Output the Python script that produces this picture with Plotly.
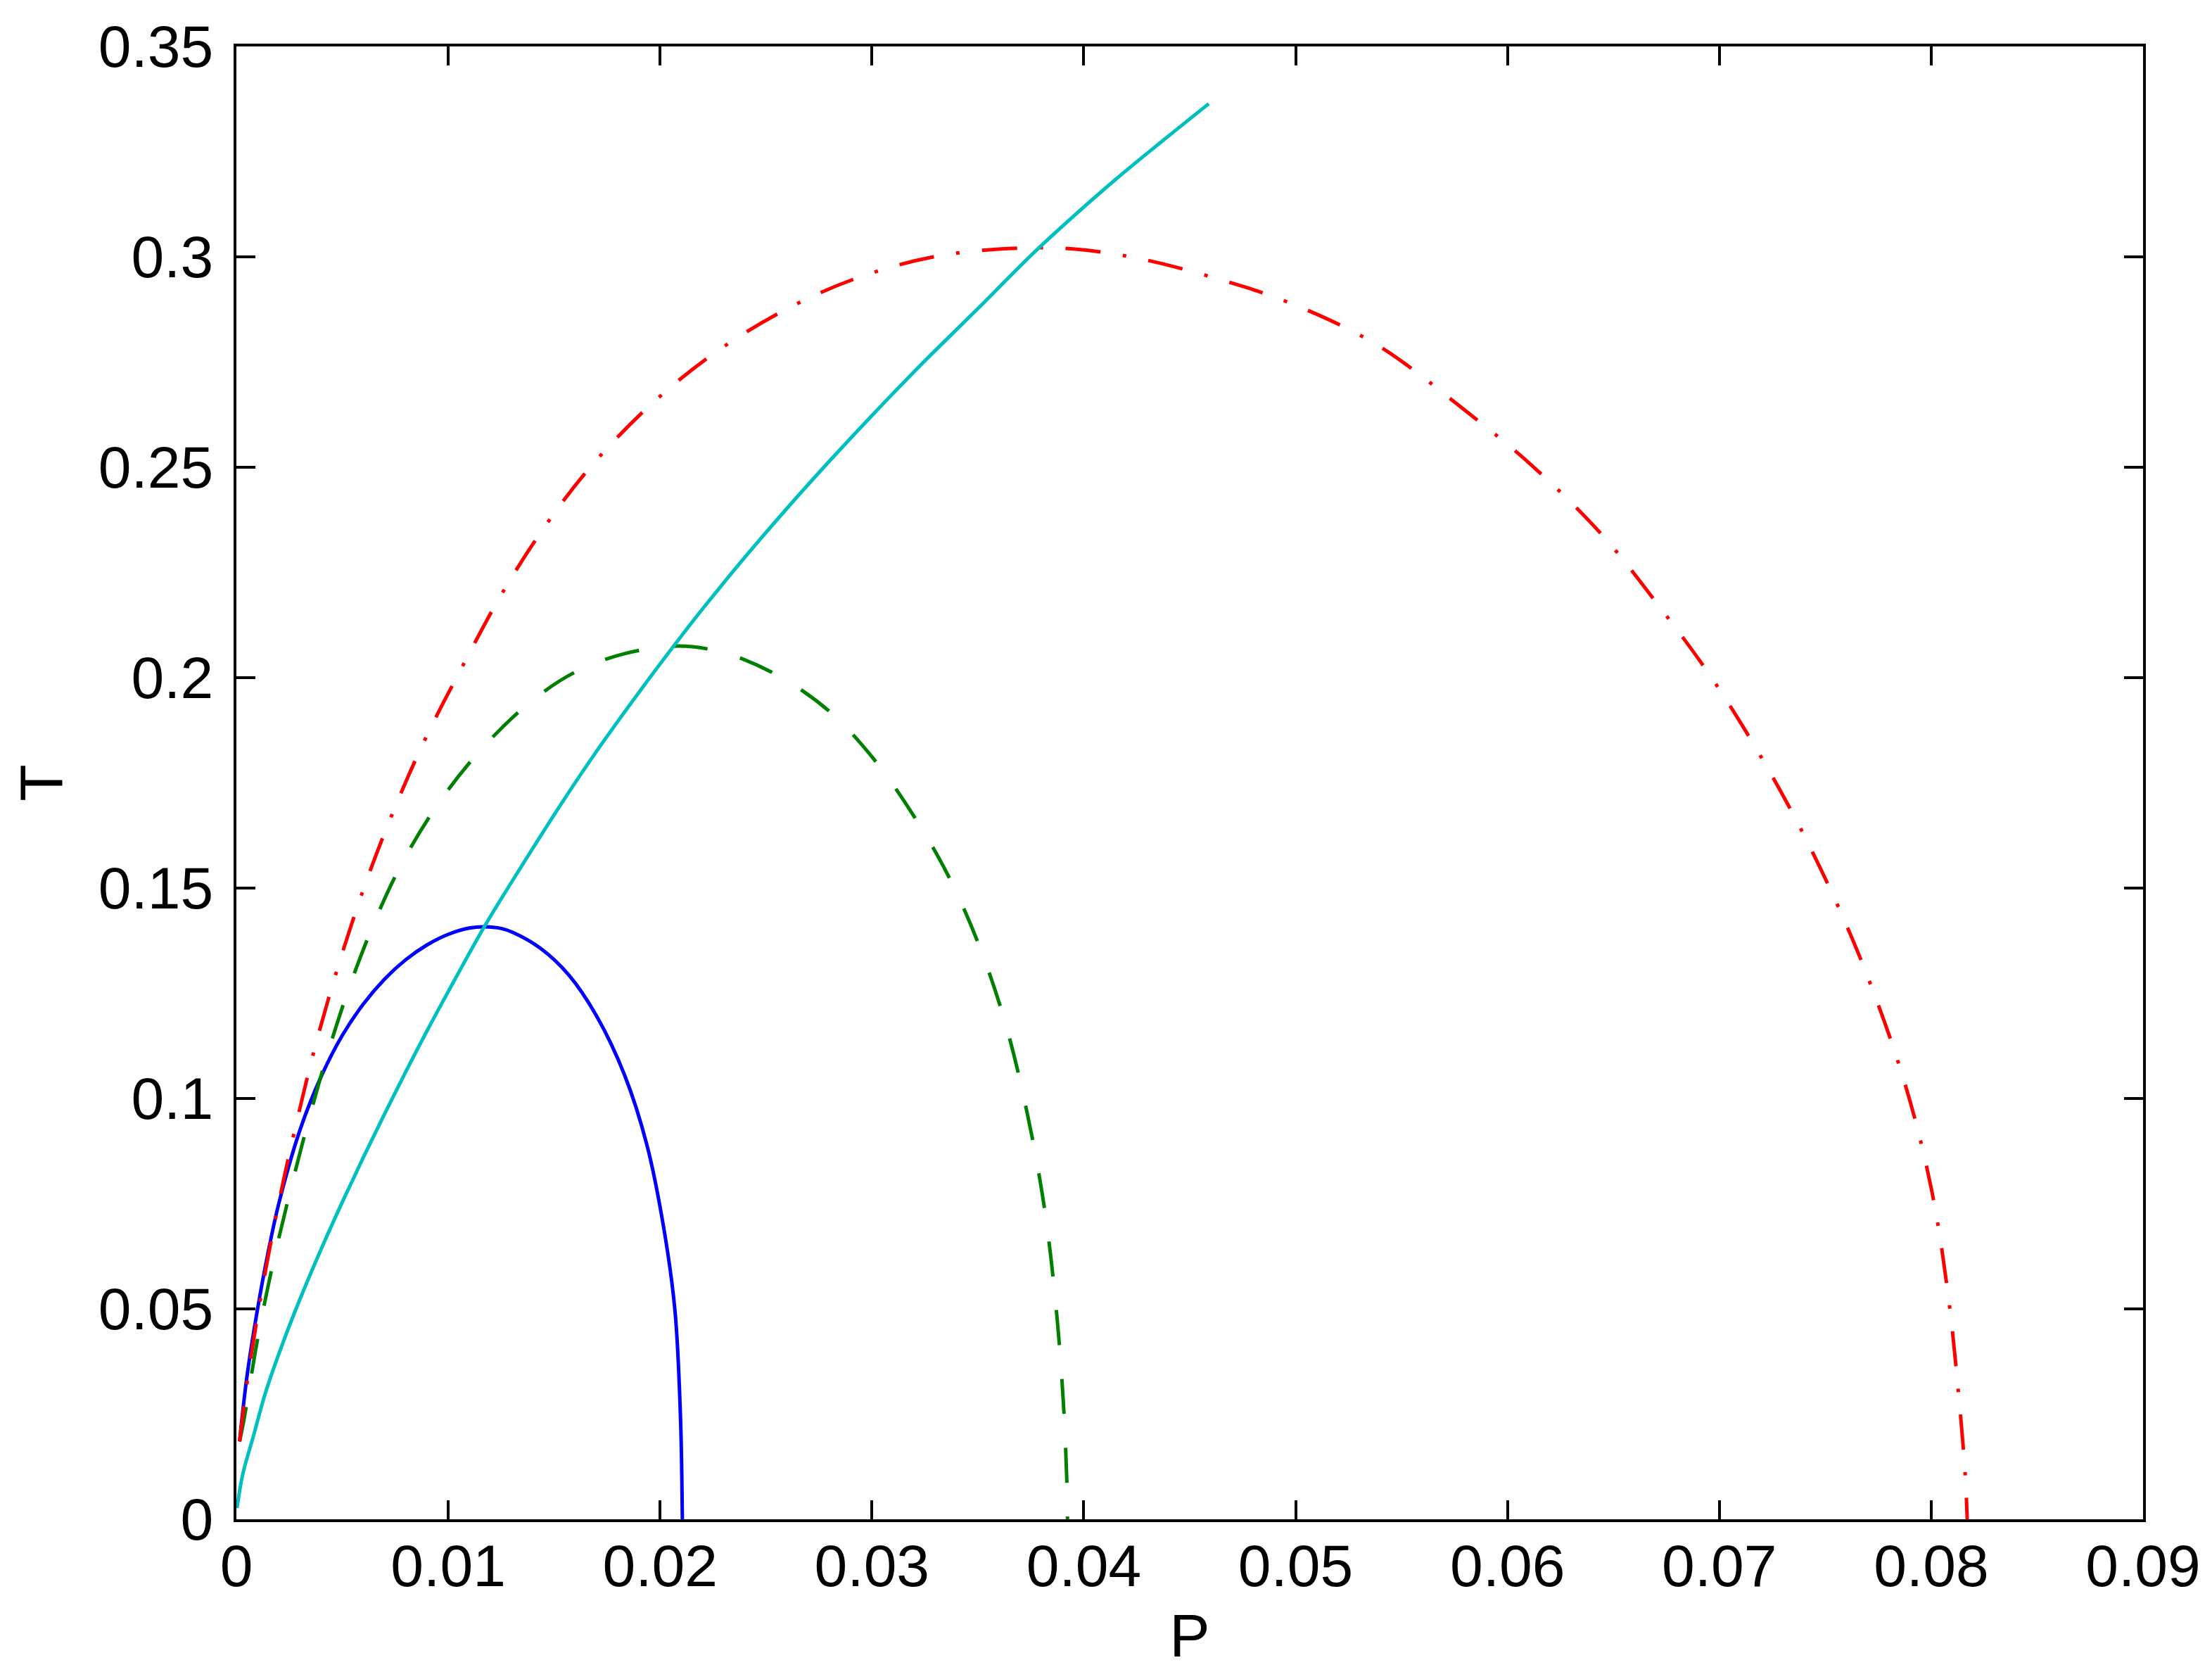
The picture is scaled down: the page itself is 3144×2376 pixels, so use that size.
import plotly.graph_objects as go

# Values (P on x, T on y)
blue_P = [0.00015, 0.0005, 0.001, 0.0015, 0.002, 0.003, 0.004, 0.005, 0.006, 0.007,
          0.008, 0.009, 0.010, 0.011, 0.0117, 0.0125, 0.01303, 0.01435, 0.01568, 0.017,
          0.01832, 0.01938, 0.02017, 0.0207, 0.02096, 0.02105]
blue_T = [0.0185, 0.034, 0.050, 0.0635, 0.075, 0.0925, 0.1052, 0.115, 0.1225, 0.1284,
          0.133, 0.1365, 0.139, 0.1405, 0.1408, 0.1404, 0.1395, 0.1357, 0.1294, 0.1196,
          0.1056, 0.0889, 0.0693, 0.0497, 0.0246, 0.0]

green_P = [0.00015, 0.00034, 0.001, 0.00167, 0.00246, 0.00338, 0.00431, 0.00537, 0.00669,
           0.00801, 0.00973, 0.01171, 0.01383, 0.01594, 0.01832, 0.0207, 0.02228, 0.02387,
           0.02598, 0.0281, 0.02995, 0.03154, 0.03339, 0.03497, 0.03629, 0.03735, 0.03814,
           0.03867, 0.03902, 0.0392, 0.03923]
green_T = [0.0185, 0.0232, 0.0428, 0.0595, 0.0763, 0.0943, 0.1107, 0.127, 0.144,
           0.1577, 0.1715, 0.1838, 0.194, 0.2012, 0.2057, 0.2075, 0.2068, 0.2045,
           0.1993, 0.1915, 0.1815, 0.1705, 0.155, 0.1375, 0.118, 0.096, 0.074,
           0.0515, 0.029, 0.009, 0.0]

red_P = [0.00015, 0.00048, 0.00114, 0.00193, 0.00272, 0.00378, 0.00497, 0.00616, 0.00748,
         0.00893, 0.01065, 0.0125, 0.0145, 0.0167, 0.0195, 0.0225, 0.0259, 0.0292,
         0.0329, 0.0366, 0.0395, 0.0427, 0.0465, 0.0496, 0.0538, 0.058, 0.0612,
         0.0644, 0.067, 0.0697, 0.0723, 0.0744, 0.0766, 0.0787, 0.08, 0.0808,
         0.0813, 0.0816, 0.0817]
red_T = [0.0185, 0.0316, 0.0525, 0.0735, 0.0917, 0.1135, 0.1341, 0.152, 0.1691,
         0.1856, 0.2025, 0.2197, 0.2355, 0.25, 0.2646, 0.2769, 0.2874, 0.2948,
         0.3, 0.302, 0.3019, 0.2995, 0.2945, 0.2893, 0.2792, 0.2635, 0.2502,
         0.2343, 0.218, 0.1995, 0.1783, 0.1585, 0.134, 0.1045, 0.0787, 0.0533,
         0.0294, 0.011, 0.0]

cyan_P = [0.00003, 0.0003, 0.0008, 0.0014, 0.0022, 0.003, 0.004, 0.005, 0.006, 0.007,
          0.008, 0.009, 0.010, 0.0117, 0.013, 0.0155, 0.017, 0.019, 0.0207, 0.022,
          0.024, 0.026, 0.028, 0.030, 0.0323, 0.035, 0.0376, 0.0395, 0.0415, 0.0437,
          0.0459]
cyan_T = [0.0027, 0.0107, 0.0197, 0.0305, 0.042, 0.0523, 0.0642, 0.0754, 0.0861, 0.0964,
          0.1064, 0.1161, 0.1254, 0.1408, 0.1515, 0.1713, 0.1825, 0.1965, 0.2079, 0.2163,
          0.2286, 0.2403, 0.2515, 0.2623, 0.2743, 0.2877, 0.3008, 0.3096, 0.3184, 0.3275,
          0.3364]

x_ticks = [0, 0.01, 0.02, 0.03, 0.04, 0.05, 0.06, 0.07, 0.08, 0.09]
x_labels = ["0", "0.01", "0.02", "0.03", "0.04", "0.05", "0.06", "0.07", "0.08", "0.09"]
y_ticks = [0, 0.05, 0.1, 0.15, 0.2, 0.25, 0.3, 0.35]
y_labels = ["0", "0.05", "0.1", "0.15", "0.2", "0.25", "0.3", "0.35"]

FONT = "Liberation Sans, Arial, Helvetica, sans-serif"
LW = 5

fig = go.Figure()

# solid blue
fig.add_trace(go.Scatter(x=blue_P, y=blue_T, mode='lines',
                         line=dict(color='#0000FF', width=LW, shape='spline', smoothing=1.0)))
# dashed green
fig.add_trace(go.Scatter(x=green_P, y=green_T, mode='lines',
                         line=dict(color='#008000', width=LW, shape='spline', smoothing=1.0,
                                   dash='50px,48px')))
# dash-dot red
fig.add_trace(go.Scatter(x=red_P, y=red_T, mode='lines',
                         line=dict(color='#FF0000', width=LW, shape='spline', smoothing=1.0,
                                   dash='50px,32px,5px,32px')))
# solid cyan
fig.add_trace(go.Scatter(x=cyan_P, y=cyan_T, mode='lines',
                         line=dict(color='#00BFBF', width=LW, shape='spline', smoothing=1.0)))

axis_common = dict(
    showline=True, linecolor='black', linewidth=4, mirror='allticks',
    ticks='inside', ticklen=27, tickwidth=4, tickcolor='black',
    showgrid=False, zeroline=False,
    tickfont=dict(family=FONT, size=84, color='black'),
)

fig.update_layout(
    width=3144, height=2376,
    margin=dict(l=328, r=106, t=58, b=225),
    paper_bgcolor='white', plot_bgcolor='white',
    showlegend=False,
    font=dict(family=FONT, color='black'),
    xaxis=dict(range=[0, 0.09], tickvals=x_ticks, ticktext=x_labels, ticklabelstandoff=-10,
               title=dict(text='P', font=dict(family=FONT, size=86, color='black'), standoff=24),
               **axis_common),
    yaxis=dict(range=[0, 0.35], tickvals=y_ticks, ticktext=y_labels, ticklabelstandoff=12,
               title=dict(text='T', font=dict(family=FONT, size=86, color='black'), standoff=24),
               **axis_common),
)

fig.write_html("out.html")
